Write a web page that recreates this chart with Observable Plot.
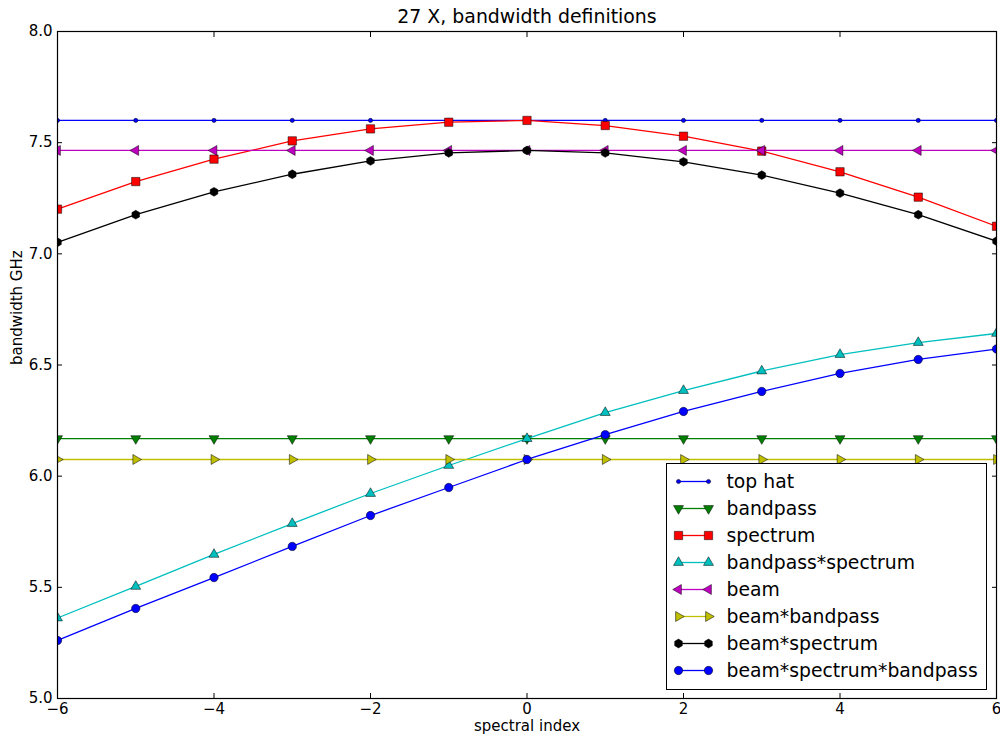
<!DOCTYPE html>
<html>
<head>
<meta charset="utf-8">
<script src="https://cdn.jsdelivr.net/npm/d3@7"></script>
<script src="https://cdn.jsdelivr.net/npm/@observablehq/plot@0.6"></script>
<style>
  body { margin: 0; background: white; }
  #wrap { position: relative; width: 1000px; height: 739px; font-family: "DejaVu Sans", sans-serif; }
  #legend { position: absolute; left: 666px; top: 463px; }
</style>
</head>
<body>
<div id="wrap"></div>
<script>
// ---- data ----
const spectralIndex = [-6, -5, -4, -3, -2, -1, 0, 1, 2, 3, 4, 5, 6];
const topHat = [7.60, 7.60, 7.60, 7.60, 7.60, 7.60, 7.60, 7.60, 7.60, 7.60, 7.60, 7.60, 7.60];
const bandpass = [6.169, 6.169, 6.169, 6.169, 6.169, 6.169, 6.169, 6.169, 6.169, 6.169, 6.169, 6.169, 6.169];
const spectrum = [7.201, 7.325, 7.426, 7.508, 7.562, 7.592, 7.600, 7.577, 7.529, 7.462, 7.369, 7.255, 7.124];
const bandpassSpectrum = [5.362, 5.504, 5.648, 5.787, 5.922, 6.048, 6.169, 6.286, 6.385, 6.473, 6.547, 6.601, 6.642];
const beam = [7.465, 7.465, 7.465, 7.465, 7.465, 7.465, 7.465, 7.465, 7.465, 7.465, 7.465, 7.465, 7.465];
const beamBandpass = [6.075, 6.075, 6.075, 6.075, 6.075, 6.075, 6.075, 6.075, 6.075, 6.075, 6.075, 6.075, 6.075];
const beamSpectrum = [7.052, 7.176, 7.279, 7.358, 7.418, 7.454, 7.465, 7.454, 7.414, 7.354, 7.273, 7.176, 7.057];
const beamSpectrumBandpass = [5.261, 5.405, 5.544, 5.684, 5.823, 5.949, 6.075, 6.187, 6.291, 6.381, 6.462, 6.525, 6.572];

const seriesNames = ["top hat", "bandpass", "spectrum", "bandpass*spectrum", "beam", "beam*bandpass", "beam*spectrum", "beam*spectrum*bandpass"];
const seriesValues = [topHat, bandpass, spectrum, bandpassSpectrum, beam, beamBandpass, beamSpectrum, beamSpectrumBandpass];
const xTicks = [-6, -4, -2, 0, 2, 4, 6];
const yTicks = [5.0, 5.5, 6.0, 6.5, 7.0, 7.5, 8.0];
const titleText = "27 X, bandwidth definitions";
const xLabel = "spectral index";
const yLabel = "bandwidth GHz";

// ---- styles ----
const hexagon = {
  draw(ctx, size) {
    const R = Math.sqrt(size / (1.5 * Math.sqrt(3)));
    for (let i = 0; i < 6; i++) {
      const a = -Math.PI / 2 + i * Math.PI / 3;
      const px = R * Math.cos(a), py = R * Math.sin(a);
      if (i) ctx.lineTo(px, py); else ctx.moveTo(px, py);
    }
    ctx.closePath();
  }
};
const styles = [
  {color: "#0000ff", symbol: "circle", r: 2.1, rotate: 0},
  {color: "#008000", symbol: "triangle", r: 3.7, rotate: 180},
  {color: "#ff0000", symbol: "square", r: 4.7, rotate: 0},
  {color: "#00bfbf", symbol: "triangle", r: 3.7, rotate: 0},
  {color: "#bf00bf", symbol: "triangle", r: 3.7, rotate: -90},
  {color: "#bfbf00", symbol: "triangle", r: 3.7, rotate: 90},
  {color: "#000000", symbol: hexagon, r: 4.0, rotate: 0},
  {color: "#0000ff", symbol: "circle", r: 4.2, rotate: 0}
];

const table = seriesNames.map((name, i) => spectralIndex.map((x, j) => ({series: name, x, y: seriesValues[i][j]})));

const marks = [];
table.forEach((rows, i) => {
  const s = styles[i];
  marks.push(Plot.line(rows, {x: "x", y: "y", stroke: s.color, strokeWidth: 1.3, clip: true}));
  marks.push(Plot.dot(rows, {x: "x", y: "y", symbol: s.symbol, r: s.r, rotate: s.rotate, fill: s.color,
    stroke: "black", strokeWidth: 0.6, strokeOpacity: 0.85, clip: true}));
});

const chart = Plot.plot({
  width: 1000,
  height: 739,
  marginLeft: 57,
  marginRight: 4,
  marginTop: 31,
  marginBottom: 41,
  style: {fontFamily: "DejaVu Sans, sans-serif", fontSize: "15px", background: "white", overflow: "visible", color: "black"},
  x: {domain: [-6, 6]},
  y: {domain: [5, 8]},
  marks: [
    ...marks,
    Plot.frame({stroke: "black", strokeWidth: 1.2}),
    Plot.axisX({ticks: xTicks, tickSize: -5, tickPadding: 10, label: null, fontSize: 15}),
    Plot.axisX({anchor: "top", ticks: xTicks, tickSize: -5, fill: "none", label: null}),
    Plot.axisY({ticks: yTicks, tickSize: -5, tickPadding: 10, tickFormat: d3.format(".1f"), label: null, fontSize: 15}),
    Plot.axisY({anchor: "right", ticks: yTicks, tickSize: -5, fill: "none", label: null}),
    Plot.text([titleText], {text: d => d, frameAnchor: "top", lineAnchor: "middle", dy: -15, fontSize: 18.9}),
    Plot.text([xLabel], {text: d => d, frameAnchor: "bottom", lineAnchor: "middle", dy: 28, fontSize: 15}),
    Plot.text([yLabel], {text: d => d, frameAnchor: "left", lineAnchor: "middle", dx: -40.5, rotate: -90, fontSize: 15})
  ]
});

const legendRows = seriesNames.map((name, i) => ({name, ...styles[i]}));
const legendMarks = [];
legendRows.forEach((d) => {
  legendMarks.push(Plot.ruleY([d], {y: "name", stroke: d.color, strokeWidth: 1.3, insetLeft: 11, insetRight: 319 - 41}));
  legendMarks.push(Plot.dot([d], {y: "name", frameAnchor: "left", dx: 11, symbol: d.symbol, r: d.r, rotate: d.rotate, fill: d.color, stroke: "black", strokeWidth: 0.6, strokeOpacity: 0.85}));
  legendMarks.push(Plot.dot([d], {y: "name", frameAnchor: "left", dx: 41, symbol: d.symbol, r: d.r, rotate: d.rotate, fill: d.color, stroke: "black", strokeWidth: 0.6, strokeOpacity: 0.85}));
});
const legend = Plot.plot({
  width: 319,
  height: 225,
  marginLeft: 0,
  marginRight: 0,
  marginTop: 15,
  marginBottom: 18,
  style: {fontFamily: "DejaVu Sans, sans-serif", fontSize: "18.8px", background: "white", border: "1px solid black", color: "black", display: "block"},
  y: {type: "point", domain: seriesNames, padding: 0, axis: null},
  marks: [
    ...legendMarks,
    Plot.text(legendRows, {y: "name", text: "name", frameAnchor: "left", dx: 59, textAnchor: "start", fontSize: 18.8})
  ]
});

const wrap = document.getElementById("wrap");
wrap.appendChild(chart);
const lg = document.createElement("div");
lg.id = "legend";
lg.appendChild(legend);
wrap.appendChild(lg);
</script>
</body>
</html>
